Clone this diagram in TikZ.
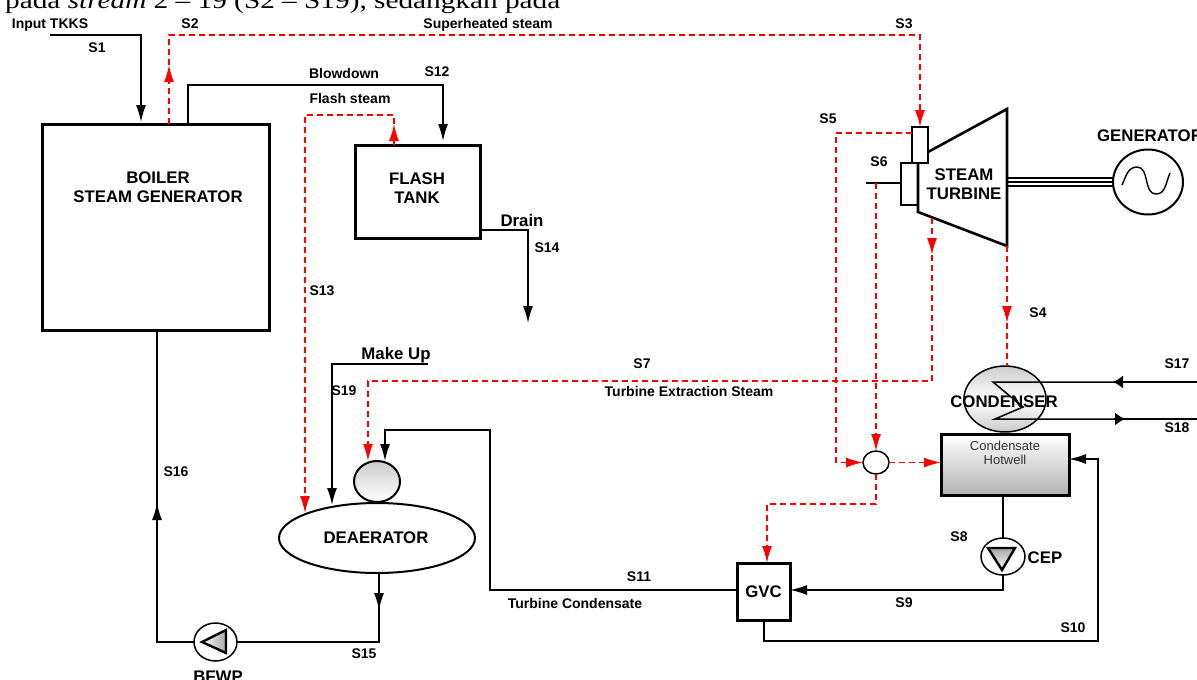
\documentclass[tikz,border=0pt]{standalone}
\usepackage{amsmath,amssymb,amsthm,tikz}
\usepackage{fontspec}
\setmainfont{Liberation Sans}
\newfontfamily\headfont[Ligatures=TeX]{Liberation Serif}
\usetikzlibrary{arrows.meta,shapes.geometric}
\tikzset{
  lbl/.style={font=\fontsize{14}{16}\selectfont\bfseries, inner sep=0pt},
  biglbl/.style={font=\fontsize{16.8}{19}\selectfont\bfseries, inner sep=0pt, align=center},
  unit/.style={draw, line width=3pt, inner sep=0pt, outer sep=0pt, align=center, font=\fontsize{16.8}{19}\selectfont\bfseries},
  vessel/.style={draw, ellipse, line width=2pt, inner sep=0pt, outer sep=0pt},
  flow/.style={line width=1.5pt},
  steam/.style={line width=1.5pt, red, dash pattern=on 6pt off 4pt},
  tip/.style={-{Latex[length=17pt,width=10pt]}},
  tipshort/.style={-{Latex[length=10pt,width=13pt]}},
}
\begin{document}
\begin{tikzpicture}[x=1pt,y=-1pt]
\useasboundingbox (0,0) rectangle (1197,680);
\node [anchor=base west, inner sep=0pt, font=\fontsize{24}{26}\selectfont\headfont] (head) at (5,9) {\scalebox{1.22}[1]{pada \textit{stream} 2 -- 19 (S2 -- S19), sedangkan pada}};

% boxes
\node [unit, minimum width=227pt, minimum height=206pt] (boiler) at (155.5,227) {};
\node [biglbl] (boilertext) at (158,187) {BOILER\\STEAM GENERATOR};
\node [unit, minimum width=125pt, minimum height=93pt] (flash) at (417.5,191.5) {};
\node [biglbl] (flashtext) at (417,188) {FLASH\\TANK};
\node [unit, minimum width=53pt, minimum height=57pt] (gvc) at (763.5,591.5) {GVC};
\node [unit, minimum width=128pt, minimum height=61pt, top color=white, bottom color=gray!60] (hotwell) at (1005,464.5) {};
\node [font=\fontsize{13}{14}\selectfont, align=center, text=black!80, inner sep=0pt] (hotwelltext) at (1005,453) {Condensate\\Hotwell};

% vessels
\node [vessel, minimum width=196pt, minimum height=70pt] (deaerator) at (377,538) {};
\node [biglbl] (deaeratortext) at (376,538) {DEAERATOR};
\node [vessel, minimum width=46pt, minimum height=41pt, top color=gray!40, bottom color=white] (dome) at (377,481.5) {};
\node [vessel, line width=1.5pt, minimum width=82pt, minimum height=66pt, top color=gray!40, bottom color=gray!40, middle color=white] (condenser) at (1005,399) {};
\node [vessel, line width=1.5pt, minimum width=26pt, minimum height=23pt] (mixer) at (876,462.5) {};
\node [vessel, line width=1.5pt, minimum width=44pt, minimum height=37pt] (cep) at (1003,556.5) {};
\node [vessel, line width=1.5pt, minimum width=43pt, minimum height=38pt] (bfwp) at (215.5,642) {};
\node [vessel, minimum width=70pt, minimum height=65pt] (generator) at (1148,182) {};

% pump triangles
\draw [line width=2.4pt, top color=gray!70, bottom color=white] (988,548) -- (1015,548) -- (1002,570) -- cycle;
\draw [line width=2.4pt, left color=white, right color=gray!70] (202,642) -- (226,630) -- (226,653) -- cycle;

% turbine
\draw [line width=2.6pt] (928,152) -- (1007,109) -- (1007,246) -- (918,212) -- (918,163);
\node [draw, line width=1.5pt, minimum width=16pt, minimum height=36pt, inner sep=0pt, outer sep=0pt, fill=white] (inlet) at (920,145) {};
\node [draw, line width=2.6pt, minimum width=17pt, minimum height=42pt, inner sep=0pt, outer sep=0pt] (gland) at (909.5,184) {};
\node [biglbl] (turbinetext) at (964,184) {STEAM\\TURBINE};
\coordinate (s6end) at (866,183);
\draw [line width=2.8pt] (s6end) -- (gland.west |- s6end);
\foreach \y in {178,182,186}
  \draw [line width=1.4pt] (1007,\y) -- (generator.west |- 0,\y);
\draw [line width=1.4pt] (1122,185) to[out=65, in=180] (1137,167) to[out=0, in=180] (1156,194) to[out=0, in=245] (1170,173);

% black streams
\coordinate (s1start) at (50,35);
\draw [flow, tip] (s1start) -| (141,122);
\draw [flow, tip] (188,124) -- (188,85) -- (443,85) -- (443,141);
\draw [flow, tip] (flash.east |- 0,230) -| (528,323);
\coordinate (makeup) at (428,364);
\draw [flow, tip] (makeup) -| (332,505);
\draw [flow, tip] (gvc.west |- 0,590) -- (490,590) -- (490,430) -| (385,461);
\draw [flow, tip] (cep.south) |- (gvc.east |- 0,590);
\draw [flow] (hotwell.south -| cep) -- (cep.north);
\draw [flow, tip] (764,620) |- (1098,641) |- (hotwell.east |- 0,459);
\draw [flow, tip] (379,573) -- (379,610);
\draw [flow] (379,605) |- (bfwp.east);
\draw [flow, tip] (bfwp.west) -| (157,503);
\draw [flow] (157,510) -- (157,330);
\coordinate (s17in) at (1197,382);
\coordinate (s18out) at (1197,419);
\draw [flow, tipshort] (s17in) -- (1113,382);
\draw [flow] (1118,382) -- (993,382) -- (1023,407) -- (995,419) -- (1118,419);
\draw [flow, tipshort] (1114,419) -- (1125,419);
\draw [flow] (1120,419) -- (s18out);

% steam streams
\draw [steam, tip] (169,124) -- (169,65);
\draw [steam, tip] (169,65) -- (169,35) -- (920,35) -- (920,127);
\draw [line width=1.5pt, red, tip] (394,145) -- (394,124);
\draw [steam, tip] (394,124) -- (394,115) -- (305,115) -- (305,513);
\draw [steam, tip] (932,218) -- (932,255);
\draw [steam, tip] (932,255) -- (932,381) -- (368,381) -- (368,461);
\draw [steam, tip] (inlet.west |- 0,133) -- (836,133) |- (mixer.west);
\draw [steam, tip] (s6end -| mixer) -- (mixer.north);
\draw [steam, tip] (mixer.east) -- (hotwell.west |- mixer.east);
\draw [steam, tip] (mixer.south) |- (767,504) -- (767,563);
\draw [steam, tip] (1007,246) -- (1007,323);
\draw [steam] (1007,323) -- (1007,366);

% labels
\node [lbl] (l1) at (50,25) {Input TKKS};
\node [lbl] (l2) at (97,48) {S1};
\node [lbl] (l3) at (190,24) {S2};
\node [lbl] (l4) at (488,25) {Superheated steam};
\node [lbl] (l5) at (904,24) {S3};
\node [lbl] (l6) at (344,73) {Blowdown};
\node [lbl] (l7) at (437,72) {S12};
\node [lbl] (l8) at (350,98) {Flash steam};
\node [lbl] (l9) at (828,119) {S5};
\node [lbl] (l10) at (879,162) {S6};
\node [biglbl] (l11) at (1150,136) {GENERATOR};
\node [lbl] (l12) at (322,291) {S13};
\node [lbl] (l13) at (547,248) {S14};
\node [biglbl] (l14) at (522,220) {Drain};
\node [lbl] (l15) at (1038,313) {S4};
\node [lbl] (l16) at (642,364) {S7};
\node [lbl] (l17) at (689,391) {Turbine Extraction Steam};
\node [biglbl] (l18) at (396,355) {Make Up};
\node [lbl] (l19) at (344,391) {S19};
\node [lbl] (l20) at (1177,364) {S17};
\node [lbl] (l21) at (1177,428) {S18};
\node [lbl] (l22) at (176,472) {S16};
\node [lbl] (l23) at (959,537) {S8};
\node [biglbl] (l24) at (1045,558) {CEP};
\node [lbl] (l25) at (904,603) {S9};
\node [lbl] (l26) at (1073,628) {S10};
\node [lbl] (l27) at (639,577) {S11};
\node [lbl] (l28) at (575,603) {Turbine Condensate};
\node [lbl] (l29) at (364,654) {S15};
\node [biglbl] (l30) at (218,677) {BFWP};
\node [biglbl] (l31) at (1004,402) {CONDENSER};
\end{tikzpicture}
\end{document}
